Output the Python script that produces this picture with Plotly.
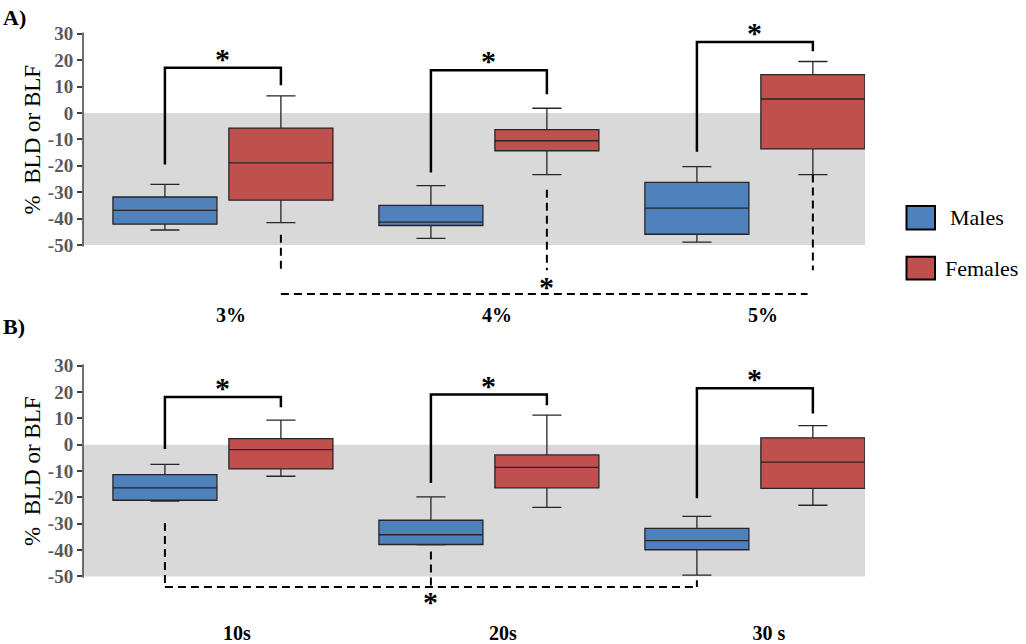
import plotly.graph_objects as go

# ---------------- data ----------------
categories_A = ["3%", "4%", "5%"]
categories_B = ["10s", "20s", "30 s"]

males_A_lower = [-44.3, -47.5, -48.9]
males_A_q1 = [-42.1, -42.6, -45.9]
males_A_median = [-36.9, -41.3, -36.0]
males_A_q3 = [-31.8, -35.0, -26.3]
males_A_upper = [-27.0, -27.5, -20.3]

females_A_lower = [-41.5, -23.3, -23.3]
females_A_q1 = [-33.0, -14.3, -13.6]
females_A_median = [-18.9, -10.5, 5.3]
females_A_q3 = [-5.7, -6.3, 14.5]
females_A_upper = [6.5, 1.8, 19.5]

males_B_lower = [-21.4, -38.0, -49.5]
males_B_q1 = [-21.1, -37.9, -39.9]
males_B_median = [-16.4, -34.2, -36.4]
males_B_q3 = [-11.4, -28.7, -31.8]
males_B_upper = [-7.5, -19.8, -27.2]

females_B_lower = [-12.0, -23.8, -23.0]
females_B_q1 = [-9.2, -16.4, -16.6]
females_B_median = [-1.9, -8.6, -6.6]
females_B_q3 = [2.3, -3.9, 2.6]
females_B_upper = [9.3, 11.2, 7.2]

# significance brackets (male vs female) : left foot, top, right foot
bracket_A_left = [-19.5, -22.5, -14.7]
bracket_A_top = [17.1, 16.2, 26.9]
bracket_A_right = [10.5, 7.1, 23.4]
bracket_B_left = [-1.6, -14.6, -20.3]
bracket_B_top = [18.1, 19.0, 21.4]
bracket_B_right = [14.2, 15.0, 11.8]

# dashed across-condition comparison
dashed_A_start = [-46.1, -29.1, -23.3]   # females
dashed_A_end = -59.5
dashed_A_level = -68.5
dashed_B_start = [-29.7, -40.6, -51.5]   # males
dashed_B_level = -54.0

y_ticks = [30, 20, 10, 0, -10, -20, -30, -40, -50]
y_title = "%  BLD or BLF"

# ---------------- style ----------------
W, H = 1026, 644
SERIF = "Liberation Serif"
BLUE = "#4f81bd"
RED = "#c0504d"
BOXLINE = "#262626"
GRAY_BAND = "#d9d9d9"
BOXGAP = 0.128
BOXGROUPGAP = 0.103
D = (1 - BOXGAP) / 4  # offset of each box from category center

X_DOMAIN = [83 / W, 865 / W]
X_RANGE = [-0.526, 2.414]
Y_DOMAIN_A = [1 - 298.3 / H, 1 - 23.7 / H]
Y_RANGE_A = [-71, 32]
Y_DOMAIN_B = [1 - 619.3 / H, 1 - 358.7 / H]
Y_RANGE_B = [-66, 32]

STAR_FONT = dict(family=SERIF, size=30, color="black", weight="bold")

fig = go.Figure()


def add_boxes(cats, stats_m, stats_f, xa, ya):
    for name, st, col in (("Males", stats_m, BLUE), ("Females", stats_f, RED)):
        lo, q1, med, q3, up = st
        fig.add_trace(go.Box(
            x=cats, q1=q1, median=med, q3=q3, lowerfence=lo, upperfence=up,
            name=name, fillcolor=col, line=dict(color=BOXLINE, width=1.3),
            whiskerwidth=0.28, boxpoints=False, showlegend=False,
            xaxis=xa, yaxis=ya, offsetgroup=name,
        ))


add_boxes(categories_A,
          (males_A_lower, males_A_q1, males_A_median, males_A_q3, males_A_upper),
          (females_A_lower, females_A_q1, females_A_median, females_A_q3, females_A_upper),
          "x", "y")
add_boxes(categories_B,
          (males_B_lower, males_B_q1, males_B_median, males_B_q3, males_B_upper),
          (females_B_lower, females_B_q1, females_B_median, females_B_q3, females_B_upper),
          "x2", "y2")

shapes = []
annotations = []

SOLID = dict(color="black", width=2.5)
DASH = dict(color="black", width=2, dash="8px,5px")


def panel_decor(xref, yref, b_left, b_top, b_right):
    # gray band
    shapes.append(dict(type="rect", xref=f"{xref} domain", yref=yref, x0=0, x1=1,
                       y0=-50, y1=0, fillcolor=GRAY_BAND, line=dict(width=0), layer="below"))
    # y axis line
    shapes.append(dict(type="line", xref=f"{xref} domain", yref=yref, x0=0, x1=0,
                       y0=-50.5, y1=30.5, line=dict(color="#404040", width=1.5)))
    # y axis title, centred on the -50..30 span
    annotations.append(dict(x=0, xref="paper", y=(y_ticks[0] + y_ticks[-1]) / 2, yref=yref,
                            xshift=32, text=y_title, textangle=-90, showarrow=False,
                            xanchor="center", yanchor="middle",
                            font=dict(family=SERIF, size=23, color="black")))
    for i in range(3):
        xm, xf = i - D, i + D
        pts = f"M{xm},{b_left[i]} L{xm},{b_top[i]} L{xf},{b_top[i]} L{xf},{b_right[i]}"
        shapes.append(dict(type="path", xref=xref, yref=yref, path=pts, line=SOLID))
        annotations.append(dict(x=i, y=b_top[i], xref=xref, yref=yref, text="*",
                                showarrow=False, yanchor="bottom", yshift=-9,
                                font=STAR_FONT))


panel_decor("x", "y", bracket_A_left, bracket_A_top, bracket_A_right)
panel_decor("x2", "y2", bracket_B_left, bracket_B_top, bracket_B_right)

# dashed comparison A (females)
for i in range(3):
    shapes.append(dict(type="line", xref="x", yref="y", x0=i + D, x1=i + D,
                       y0=dashed_A_start[i], y1=dashed_A_end, line=DASH))
shapes.append(dict(type="line", xref="x", yref="y", x0=D, x1=2 + D - 0.02,
                   y0=dashed_A_level, y1=dashed_A_level, line=DASH))
annotations.append(dict(x=1 + D, y=dashed_A_level, xref="x", yref="y", text="*",
                        showarrow=False, yanchor="bottom", yshift=-11, font=STAR_FONT))

# dashed comparison B (males)
for i in range(3):
    shapes.append(dict(type="line", xref="x2", yref="y2", x0=i - D, x1=i - D,
                       y0=dashed_B_start[i], y1=dashed_B_level, line=DASH))
shapes.append(dict(type="line", xref="x2", yref="y2", x0=-D, x1=2 - D,
                   y0=dashed_B_level, y1=dashed_B_level, line=DASH))
annotations.append(dict(x=1 - D, y=dashed_B_level, xref="x2", yref="y2", text="*",
                        showarrow=False, yanchor="bottom", yshift=-33, font=STAR_FONT))

# panel labels
for lab, ypx in (("A)", 13), ("B)", 325)):
    annotations.append(dict(x=1 / W, y=1 - ypx / H, xref="paper", yref="paper", text=lab,
                            showarrow=False, xanchor="left", yanchor="middle",
                            font=dict(family=SERIF, size=22, color="black", weight="bold")))

# manual legend
for lab, col, (x0, x1, y0, y1), tx in (
    ("Males", BLUE, (906.5, 935, 203, 226.5), 948),
    ("Females", RED, (906.5, 935, 254, 277), 943),
):
    shapes.append(dict(type="rect", xref="paper", yref="paper",
                       x0=x0 / W, x1=x1 / W, y0=1 - y1 / H, y1=1 - y0 / H,
                       fillcolor=col, line=dict(color="black", width=2)))
    annotations.append(dict(x=tx / W, y=1 - (y0 + y1) / 2 / H, xref="paper", yref="paper",
                            text=lab, showarrow=False, xanchor="left", yanchor="middle",
                            font=dict(family=SERIF, size=22, color="black")))

yaxis_common = dict(
    tickvals=y_ticks, ticktext=[str(v) for v in y_ticks], ticks="outside", ticklen=5,
    tickcolor="#404040", tickwidth=1.5, showgrid=False, zeroline=False, showline=False,
    tickfont=dict(family=SERIF, size=19, color="#595959", weight="bold"),
    fixedrange=True,
)
xaxis_common = dict(
    domain=X_DOMAIN, range=X_RANGE, showgrid=False, zeroline=False, showline=False,
    ticks="", tickfont=dict(family=SERIF, size=20, color="black", weight="bold"),
    type="category", fixedrange=True,
)

fig.update_layout(
    width=W, height=H, margin=dict(l=0, r=0, t=0, b=0),
    paper_bgcolor="white", plot_bgcolor="white",
    boxmode="group", boxgap=BOXGAP, boxgroupgap=BOXGROUPGAP,
    xaxis=dict(**xaxis_common, anchor="y", ticklabelshift=8),
    xaxis2=dict(**xaxis_common, anchor="y2", ticklabelshift=14),
    yaxis=dict(**yaxis_common, domain=Y_DOMAIN_A, range=Y_RANGE_A, anchor="x"),
    yaxis2=dict(**yaxis_common, domain=Y_DOMAIN_B, range=Y_RANGE_B, anchor="x2"),
    shapes=shapes, annotations=annotations, showlegend=False,
)

fig.write_html("out.html", config={"displayModeBar": False},
               post_script="document.body.style.margin='0';")
